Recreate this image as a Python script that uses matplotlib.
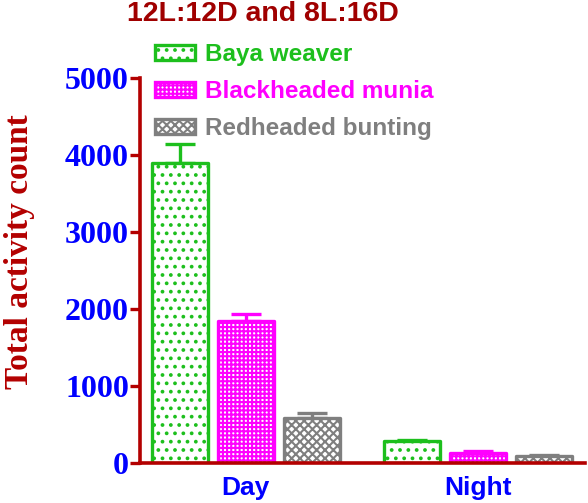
import numpy as np
import matplotlib
matplotlib.use('Agg')
import matplotlib.pyplot as plt
from matplotlib.patches import Patch

# ==============================
# DATA
# ==============================
groups = ['Day', 'Night']
species = ['Baya weaver', 'Blackheaded munia', 'Redheaded bunting']
baya = [3890, 290]
munia = [1850, 135]
bunting = [580, 85]
baya_err = [250, 15]
munia_err = [90, 20]
bunting_err = [65, 20]
yticks = [0, 1000, 2000, 3000, 4000, 5000]

# ==============================
# STYLE
# ==============================
colors = ['#1dbf1d', '#ff00ff', '#7f7f7f']
hatches = ['..', '++++', 'xxxx']
axis_red = '#b30000'
tick_blue = '#0000ff'
plt.rcParams['hatch.linewidth'] = 1.5

fig = plt.figure(figsize=(5.88, 5.03), dpi=100)
ax = fig.add_axes([140/588, 40/503, 445/588, 385/503])

group_pos = np.array([0.0, 3.94])
offsets = [-1.12, 0.0, 1.12]
width = 0.95
values = [baya, munia, bunting]
errs = [baya_err, munia_err, bunting_err]

for j in range(3):
    x = group_pos + offsets[j]
    ax.errorbar(x, values[j], yerr=[np.zeros(2), errs[j]], fmt='none',
                ecolor=colors[j], elinewidth=2.4, capsize=11, capthick=2.4, zorder=1)
    bars = ax.bar(x, values[j], width=width, color='white', edgecolor=colors[j],
                  linewidth=2.4, hatch=hatches[j], zorder=2)
    for b in bars:
        b.set_joinstyle('round')

ax.set_xlim(-1.79, 5.75)
ax.set_ylim(0, 5000)
ax.set_yticks(yticks)
ax.set_yticklabels([str(t) for t in yticks], family='Liberation Serif',
                   fontweight='bold', fontsize=23, color=tick_blue)
ax.set_xticks(group_pos)
ax.set_xticklabels(groups, family='Liberation Sans', fontweight='bold',
                   fontsize=19, color=tick_blue)
ax.tick_params(axis='x', length=0, pad=9)
ax.tick_params(axis='y', length=7, width=2.4, color=axis_red, pad=1)

for s in ['top', 'right']:
    ax.spines[s].set_visible(False)
for s in ['left', 'bottom']:
    ax.spines[s].set_color(axis_red)
    ax.spines[s].set_linewidth(2.6)
    ax.spines[s].set_zorder(5)

ax.set_ylabel('Total activity count', family='Liberation Serif', fontweight='bold',
              fontsize=24, color=axis_red)
ax.yaxis.set_label_coords(-0.237, 0.548)

fig.text(263/588, 1 - 14/503, '12L:12D and 8L:16D', ha='center', va='center',
         family='Liberation Sans', fontweight='bold', fontsize=20.5, color='#a00000')

handles = [Patch(facecolor='white', edgecolor=colors[j], linewidth=2.4, hatch=hatches[j])
           for j in range(3)]
leg = fig.legend(handles, species, loc='upper left', bbox_to_anchor=(155/588, 1 - 43/503),
                 frameon=False, borderpad=0, borderaxespad=0, handlelength=1.65,
                 handleheight=0.6, handletextpad=0.4, labelspacing=0.58,
                 prop={'family': 'Liberation Sans', 'weight': 'bold', 'size': 17.5})
for txt, c in zip(leg.get_texts(), colors):
    txt.set_color(c)

plt.savefig('out.png', dpi=100)
